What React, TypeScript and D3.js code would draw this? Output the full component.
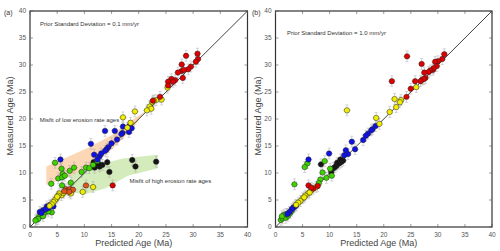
import React from "react";
import * as d3 from "d3";

type P = [number, number];

const ticks = [0, 5, 10, 15, 20, 25, 30, 35, 40];

// Panel (a): prior SD 0.1 mm/yr
const aRed: P[] = [[28.7,31.7],[30.8,32.1],[30.9,31.1],[30.5,30.6],[29.6,29.7],[29.1,29.2],[27.9,30.1],[27.9,28.9],[28.3,29.1],[27.2,28.6],[28.1,27.6],[26.7,27.2],[26.0,27.4],[25.4,26.9],[26.3,26.9],[25.4,26.2],[23.9,24.1],[22.6,23.4],[15.2,7.7]];
const aOrange: P[] = [[6.6,7.0],[7.0,6.8],[7.4,7.0],[7.9,6.9],[7.2,6.5],[6.3,6.6],[10.3,7.7]];
const aYellow: P[] = [[25.3,25.8],[24.2,23.6],[23.2,23.5],[22.5,23.1],[22.8,23.4],[22.0,22.3],[22.3,21.9],[21.5,21.6],[19.3,21.4],[17.1,20.3],[18.5,19.3],[17.9,18.4],[9.7,6.5],[11.6,7.4],[7.5,6.2],[5.8,5.9],[5.4,6.2],[5.2,5.8],[4.9,5.3],[4.6,5.0],[4.3,4.6],[4.0,4.2],[3.6,3.9],[6.2,6.3],[5.0,5.6]];
const aBlue: P[] = [[18.3,18.7],[18.7,18.3],[17.1,18.6],[15.6,17.8],[16.0,16.2],[13.8,17.8],[15.0,15.5],[14.4,14.8],[14.1,14.4],[13.8,14.1],[11.2,15.4],[11.8,13.4],[12.8,13.1],[13.1,13.6],[5.6,12.5],[12.4,12.5],[17.0,17.4],[18.2,17.6],[16.8,17.2],[3.1,3.8],[3.7,4.1],[2.4,3.1],[1.8,2.8],[3.4,3.5],[4.3,3.8],[2.9,3.3],[2.1,2.6]];
const aGreen: P[] = [[4.6,11.9],[5.8,10.8],[6.0,9.8],[5.2,9.0],[5.9,9.2],[6.4,9.5],[7.3,10.4],[8.1,11.0],[3.9,8.0],[5.9,7.7],[7.5,8.2],[9.5,10.2],[10.3,11.0],[10.9,10.9],[11.6,11.5],[12.4,12.2],[1.2,1.4],[1.7,1.9],[2.1,2.3],[2.8,2.7],[3.1,3.1],[4.0,2.7],[1.5,1.5],[2.4,2.0],[1.0,1.2],[3.4,2.9]];
const aBlack: P[] = [[11.9,11.0],[12.8,11.2],[13.3,11.5],[11.7,12.0],[12.2,11.9],[12.7,11.6],[14.2,12.0],[14.6,10.2],[18.8,12.4],[19.4,11.2],[23.2,12.1]];

const lowBand: P[] = [[3,11.2],[7,13.0],[11,14.8],[15,17.0],[18,19.3],[21,21.3],[19,18.3],[15,14.3],[12,12.0],[8,9.6],[3,7.8]];
const highBand: P[] = [[7.5,9.6],[12,11.3],[17,12.7],[23.5,13.4],[23.5,10.9],[18,9.5],[14,7.2],[10,6.0],[7.5,6.5]];

// Panel (b): prior SD 1.0 mm/yr
const bRed: P[] = [[24.3,31.6],[31.2,32.0],[30.8,31.1],[30.0,30.7],[29.5,30.6],[29.8,29.8],[29.1,29.1],[29.2,29.4],[28.6,29.0],[28.3,28.7],[27.5,28.6],[27.0,30.2],[27.7,27.6],[27.1,27.3],[27.4,27.4],[26.8,27.0],[25.8,27.0],[21.5,27.0],[25.0,25.6],[24.2,24.1],[6.1,7.7],[7.8,7.6],[7.0,7.1],[6.6,7.3]];
const bYellow: P[] = [[13.2,21.6],[26.0,25.9],[22.0,23.7],[23.2,23.5],[23.0,23.1],[22.3,22.2],[21.1,21.3],[18.6,20.2],[19.2,19.1],[7.5,7.4],[6.6,6.8],[6.0,6.2],[5.5,5.8],[5.0,5.3],[4.6,4.8],[4.2,4.5],[3.8,4.1],[5.3,5.5],[6.3,6.4]];
const bBlue: P[] = [[18.5,18.7],[17.9,18.1],[17.7,17.9],[17.1,17.3],[16.7,16.9],[16.2,16.1],[14.7,14.4],[14.1,15.8],[13.0,14.2],[13.4,13.5],[12.7,13.3],[9.9,13.6],[6.1,12.5],[3.6,3.8],[3.3,3.6],[3.0,3.3],[2.6,2.8],[3.8,4.0],[2.2,2.4]];
const bGreen: P[] = [[5.9,11.8],[5.4,11.1],[9.1,12.2],[8.7,10.1],[10.1,10.8],[9.4,9.1],[10.4,9.5],[8.3,8.8],[8.0,8.1],[3.5,7.9],[1.0,1.3],[1.3,1.6],[1.6,2.3],[1.9,1.7],[2.3,2.1],[2.7,2.6],[3.0,3.0],[1.2,2.0],[2.0,2.4]];
const bBlack: P[] = [[8.4,11.6],[10.3,10.2],[10.7,10.9],[11.0,11.1],[11.3,11.4],[11.6,11.7],[11.9,11.9],[12.2,12.1],[12.5,12.3],[11.4,11.9],[12.0,12.5]];

const FONT = "Liberation Sans, Arial, Helvetica, sans-serif";

type Series = { pts: P[]; color: string };
type Band = { pts: P[]; color: string };
type Note = { text: string; x: number; y: number };

function Panel(props: {
  left: number; right: number; top: number; bottom: number;
  letter: string; letterX: number; prior: string; priorX: number; priorY: number;
  series: Series[]; bands: Band[]; notes: Note[]; yTitleX: number;
}) {
  const { left, right, top, bottom } = props;
  const x = d3.scaleLinear().domain([0, 40]).range([left, right]);
  const y = d3.scaleLinear().domain([0, 40]).range([bottom, top]);
  const line = d3.line<P>().x((d) => x(d[0])).y((d) => y(d[1])).curve(d3.curveLinearClosed);
  const all: { p: P; c: string }[] = [];
  props.series.forEach((s) => s.pts.forEach((p) => all.push({ p, c: s.color })));
  const ex = 0.7, ey = 1.0;
  return (
    <g>
      <text x={props.letterX} y={15} fontSize={7} fill="#333" fontFamily={FONT}>{props.letter}</text>
      {props.bands.map((b, i) => (
        <path key={i} d={line(b.pts) || ""} fill={b.color} opacity={0.75} />
      ))}
      {all.map((d, i) => (
        <g key={"e" + i} stroke="#aaaaaa" strokeWidth={0.6} opacity={0.8}>
          <line x1={x(d.p[0])} x2={x(d.p[0])} y1={y(d.p[1] - ey)} y2={y(d.p[1] + ey)} />
          <line x1={x(d.p[0]) - 1.5} x2={x(d.p[0]) + 1.5} y1={y(d.p[1] - ey)} y2={y(d.p[1] - ey)} />
          <line x1={x(d.p[0]) - 1.5} x2={x(d.p[0]) + 1.5} y1={y(d.p[1] + ey)} y2={y(d.p[1] + ey)} />
          <line x1={x(d.p[0] - ex)} x2={x(d.p[0] + ex)} y1={y(d.p[1])} y2={y(d.p[1])} />
        </g>
      ))}
      <line x1={x(0)} y1={y(0)} x2={x(40)} y2={y(40)} stroke="#111" strokeWidth={0.8} />
      {all.map((d, i) => (
        <circle key={"c" + i} cx={x(d.p[0])} cy={y(d.p[1])} r={2.7} fill={d.c} stroke="#222" strokeWidth={0.5} />
      ))}
      {props.notes.map((n, i) => (
        <text key={i} x={x(n.x)} y={y(n.y)} fontSize={6} fill="#333" fontFamily={FONT}>{n.text}</text>
      ))}
      <text x={props.priorX} y={props.priorY} fontSize={6} fill="#333" fontFamily={FONT}>{props.prior}</text>
      <rect x={left} y={top} width={right - left} height={bottom - top} fill="none" stroke="#333" strokeWidth={1.2} />
      {ticks.map((t) => (
        <g key={t} stroke="#555" strokeWidth={0.6}>
          <line x1={x(t)} x2={x(t)} y1={bottom} y2={bottom - 3} />
          <line x1={x(t)} x2={x(t)} y1={top} y2={top + 3} />
          <line y1={y(t)} y2={y(t)} x1={left} x2={left + 3} />
          <line y1={y(t)} y2={y(t)} x1={right} x2={right - 3} />
        </g>
      ))}
      {ticks.map((t) => (
        <text key={"x" + t} x={x(t)} y={bottom + 9.5} fontSize={6.5} fill="#555" textAnchor="middle" fontFamily={FONT}>{t}</text>
      ))}
      {ticks.map((t) => (
        <text key={"y" + t} x={left - 4} y={y(t) + 2.3} fontSize={6.5} fill="#555" textAnchor="end" fontFamily={FONT}>{t}</text>
      ))}
      <text x={(left + right) / 2 - 5} y={bottom + 19} fontSize={9} fill="#444" textAnchor="middle" fontFamily={FONT}>Predicted Age (Ma)</text>
      <text transform={`translate(${props.yTitleX},${(top + bottom) / 2 - 3}) rotate(-90)`} fontSize={9} fill="#444" textAnchor="middle" fontFamily={FONT}>Measured Age (Ma)</text>
    </g>
  );
}

export default function App() {
  return (
    <div style={{ position: "absolute", left: 0, top: 0 }}>
      <svg width={500} height={251} style={{ display: "block", background: "#fff" }}>
        <Panel left={30} right={247.5} top={11} bottom={227} letter="(a)" letterX={4}
          prior="Prior Standard Deviation = 0.1 mm/yr" priorX={40} priorY={26}
          yTitleX={13}
          series={[
            { pts: aBlack, color: "#151515" },
            { pts: aGreen, color: "#3ed400" },
            { pts: aBlue, color: "#1010e8" },
            { pts: aYellow, color: "#f2ee00" },
            { pts: aOrange, color: "#e0561a" },
            { pts: aRed, color: "#e00000" },
          ]}
          bands={[{ pts: lowBand, color: "#f9c99e" }, { pts: highBand, color: "#c6e4a4" }]}
          notes={[
            { text: "Misfit of low erosion rate ages", x: 1.8, y: 19.4 },
            { text: "Misfit of high erosion rate ages", x: 18.3, y: 8.2 },
          ]}
        />
        <Panel left={275.5} right={492} top={11} bottom={227} letter="(b)" letterX={252}
          prior="Prior Standard Deviation = 1.0 mm/yr" priorX={287} priorY={35}
          yTitleX={261}
          series={[
            { pts: bBlack, color: "#151515" },
            { pts: bGreen, color: "#3ed400" },
            { pts: bBlue, color: "#1010e8" },
            { pts: bYellow, color: "#f2ee00" },
            { pts: bRed, color: "#e00000" },
          ]}
          bands={[]}
          notes={[]}
        />
      </svg>
    </div>
  );
}
